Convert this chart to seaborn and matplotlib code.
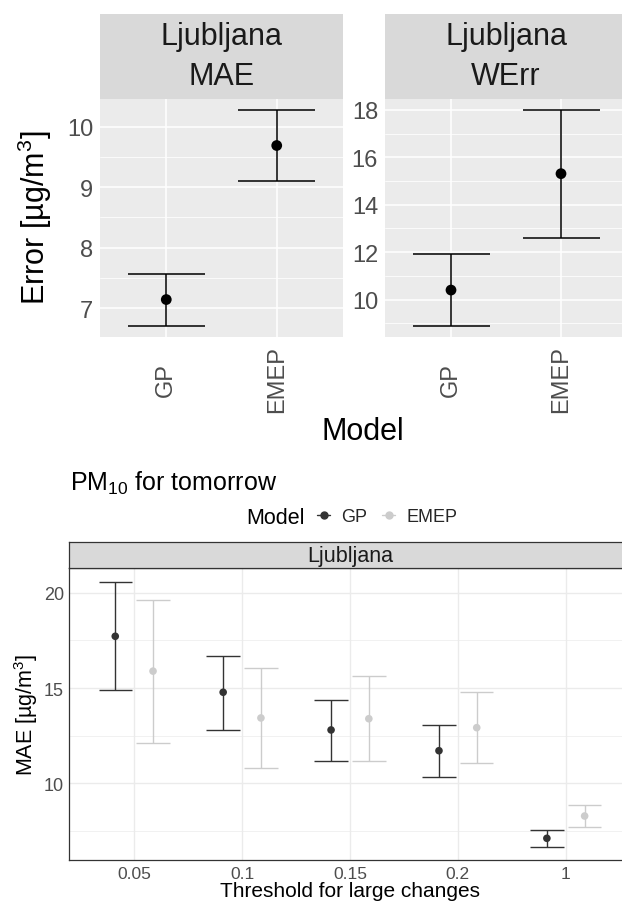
import numpy as np
import pandas as pd
import matplotlib
matplotlib.use("Agg")
import matplotlib.pyplot as plt
from matplotlib.lines import Line2D
import seaborn as sns

# ---- data -------------------------------------------------------------
models = ["GP", "EMEP"]

# upper figure: overall errors per model
mae_mean = [7.14, 9.69]
mae_low = [6.70, 9.10]
mae_high = [7.56, 10.28]

werr_mean = [10.40, 15.31]
werr_low = [8.88, 12.58]
werr_high = [11.94, 18.00]

# lower figure: MAE by threshold for large changes
thresholds = ["0.05", "0.1", "0.15", "0.2", "1"]
gp_mean = [17.72, 14.78, 12.80, 11.71, 7.11]
gp_low = [14.90, 12.80, 11.19, 10.35, 6.67]
gp_high = [20.59, 16.71, 14.38, 13.08, 7.53]
emep_mean = [15.89, 13.43, 13.39, 12.92, 8.28]
emep_low = [12.13, 10.79, 11.19, 11.07, 7.69]
emep_high = [19.65, 16.07, 15.61, 14.78, 8.86]

# ---- style ------------------------------------------------------------
sns.set_theme(style="white")
plt.rcParams["font.family"] = ["Liberation Sans", "DejaVu Sans"]
plt.rcParams["mathtext.fontset"] = "custom"
plt.rcParams["mathtext.rm"] = "Liberation Sans"
plt.rcParams["mathtext.it"] = "Liberation Sans:italic"
plt.rcParams["mathtext.bf"] = "Liberation Sans:bold"

W, H = 622, 904
fig = plt.figure(figsize=(W / 100, H / 100), dpi=100)


def box(x0, y0, x1, y1):
    """Pixel box (from top-left) -> figure fraction rect."""
    return [x0 / W, 1 - y1 / H, (x1 - x0) / W, (y1 - y0) / H]


PANEL_BG = "#EBEBEB"
STRIP_BG = "#D9D9D9"
TICK_TXT = "#4D4D4D"


def gray_panel(ax, ylim, major, minor):
    ax.set_facecolor(PANEL_BG)
    for s in ax.spines.values():
        s.set_visible(False)
    ax.set_xlim(-0.6, 1.6)
    ax.set_ylim(*ylim)
    ax.set_yticks(major)
    ax.set_yticks(minor, minor=True)
    ax.set_xticks(range(len(models)))
    ax.grid(True, which="major", color="white", lw=1.1)
    ax.grid(True, which="minor", axis="y", color="white", lw=0.55)
    ax.set_axisbelow(True)
    ax.tick_params(axis="both", which="major", length=3, width=0.8,
                   color="#333333", labelsize=17, labelcolor=TICK_TXT, pad=2)
    ax.tick_params(axis="y", which="minor", length=0)
    ax.set_xticklabels(models, rotation=90, va="center", ha="center")
    ax.tick_params(axis="x", pad=27.0)
    ax.set_xlabel("")
    ax.set_ylabel("")


def draw_intervals(ax, x, mean, low, high, color, half, lw, size):
    df = pd.DataFrame({"x": x, "mean": mean, "low": low, "high": high})
    ax.vlines(df["x"], df["low"], df["high"], color=color, lw=lw, zorder=3)
    ax.hlines(df["low"], df["x"] - half, df["x"] + half, color=color, lw=lw, zorder=3)
    ax.hlines(df["high"], df["x"] - half, df["x"] + half, color=color, lw=lw, zorder=3)
    sns.scatterplot(data=df, x="x", y="mean", color=color, s=size,
                    edgecolor="none", ax=ax, zorder=4, legend=False)


def strip(rect, lines, size, ys):
    sax = fig.add_axes(rect)
    sax.set_facecolor(STRIP_BG)
    sax.set_xticks([])
    sax.set_yticks([])
    for s in sax.spines.values():
        s.set_visible(False)
    for t, yy in zip(lines, ys):
        sax.text(0.5, yy, t, ha="center", va="center", fontsize=size,
                 color="#1A1A1A", transform=sax.transAxes)
    return sax


# ---- upper figure -----------------------------------------------------
ax1 = fig.add_axes(box(100, 100, 343, 338))
ax2 = fig.add_axes(box(385, 100, 627, 338))

xpos = np.arange(len(models))
draw_intervals(ax1, xpos, mae_mean, mae_low, mae_high, "black", 0.35, 1.1, 60)
draw_intervals(ax2, xpos, werr_mean, werr_low, werr_high, "black", 0.35, 1.1, 60)

gray_panel(ax1, (6.52, 10.46), [7, 8, 9, 10], [7.5, 8.5, 9.5])
gray_panel(ax2, (8.42, 18.46), [10, 12, 14, 16, 18], [9, 11, 13, 15, 17])

strip(box(100, 15, 343, 100), ["Ljubljana", "MAE"], 22, (0.745, 0.27))
strip(box(385, 15, 627, 100), ["Ljubljana", "WErr"], 22, (0.745, 0.27))

fig.text(35 / W, 1 - 218 / H, "Error [µg/m$^3$]", rotation=90,
         ha="center", va="center", fontsize=22, color="black")
fig.text(363 / W, 1 - 432 / H, "Model", ha="center", va="center",
         fontsize=22, color="black")

# ---- lower figure -----------------------------------------------------
GP_COL = "#333333"
EMEP_COL = "#CCCCCC"
dodge = 0.175

ax3 = fig.add_axes(box(69.4, 569.3, 630.5, 861))
ax3.set_facecolor("white")
idx = np.arange(len(thresholds))
draw_intervals(ax3, idx - dodge, gp_mean, gp_low, gp_high, GP_COL, 0.155, 1.0, 30)
draw_intervals(ax3, idx + dodge, emep_mean, emep_low, emep_high, EMEP_COL, 0.155, 1.0, 30)

ax3.set_xlim(-0.6, len(thresholds) - 0.4)
ax3.set_ylim(5.97, 21.29)
ax3.set_xticks(idx)
ax3.set_xticklabels(thresholds)
ax3.set_yticks([10, 15, 20])
ax3.set_yticks([7.5, 12.5, 17.5], minor=True)
ax3.grid(True, which="major", color="#EBEBEB", lw=1.0)
ax3.grid(True, which="minor", axis="y", color="#EBEBEB", lw=0.5)
ax3.set_axisbelow(True)
for s in ax3.spines.values():
    s.set_color("#333333")
    s.set_linewidth(0.9)
ax3.tick_params(axis="both", which="major", length=2.5, width=0.8,
                color="#333333", labelsize=12.5, labelcolor=TICK_TXT, pad=1.5)
ax3.tick_params(axis="y", labelsize=13)
ax3.tick_params(axis="y", which="minor", length=0)
ax3.set_xlabel("Threshold for large changes", fontsize=15, color="black", labelpad=0)
ax3.set_ylabel("MAE [µg/m$^3$]", fontsize=15.5, color="black", labelpad=3)

sb = fig.add_axes(box(69.4, 543, 630.5, 569.3))
sb.set_facecolor(STRIP_BG)
sb.set_xticks([])
sb.set_yticks([])
for s in sb.spines.values():
    s.set_color("#333333")
    s.set_linewidth(0.9)
sb.text(0.5, 0.48, "Ljubljana", ha="center", va="center", fontsize=15.5,
        color="#1A1A1A", transform=sb.transAxes)

fig.text(70 / W, 1 - 491 / H, "PM$_{10}$ for tomorrow", ha="left",
         va="baseline", fontsize=18, color="black")

fig.text(246 / W, 1 - 519 / H, "Model", ha="left", va="center",
         fontsize=15.5, color="black")
handles = [Line2D([], [], color=GP_COL, marker="o", markersize=5, lw=1.0),
           Line2D([], [], color=EMEP_COL, marker="o", markersize=5, lw=1.0)]
fig.legend(handles, models, loc="center left",
           bbox_to_anchor=(317 / W, 1 - 518 / H), ncol=2, frameon=False,
           fontsize=13, handlelength=0.72, handletextpad=0.6,
           columnspacing=0.85, borderpad=0, borderaxespad=0)

fig.savefig("out.png", dpi=100)
